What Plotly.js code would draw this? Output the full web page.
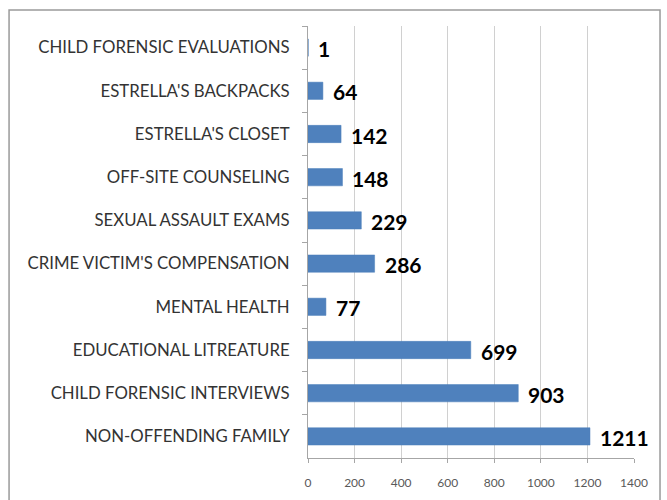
<!DOCTYPE html>
<html><head><meta charset="utf-8">
<script src="https://cdn.plot.ly/plotly-3.0.1.min.js"></script>
<style>html,body{margin:0;padding:0;background:#fff;}</style>
</head><body><div id="chart" style="width:667px;height:500px;"></div>
<script>
const categories = ["CHILD FORENSIC EVALUATIONS","ESTRELLA'S BACKPACKS","ESTRELLA'S CLOSET","OFF-SITE COUNSELING","SEXUAL ASSAULT EXAMS","CRIME VICTIM'S COMPENSATION","MENTAL HEALTH","EDUCATIONAL LITREATURE","CHILD FORENSIC INTERVIEWS","NON-OFFENDING FAMILY"];
const values = [1,64,142,148,229,286,77,699,903,1211];
const xTicks = [0,200,400,600,800,1000,1200,1400];

const trace = {
  type:'bar', orientation:'h', x:values, y:categories,
  marker:{color:'#4F81BD', line:{color:'#4A7EBB', width:0.5}},
  width:0.4,
  hoverinfo:'none'
};
const annotations = values.map((v,i)=>({
  x:v, y:categories[i], xref:'x', yref:'y', text:String(v), showarrow:false,
  xanchor:'left', yanchor:'middle', xshift:8, yshift:-1,
  font:{family:'Lato, sans-serif', size:21, color:'#000', weight:'bold'}
}));
const layout = {
  width:667, height:500,
  margin:{l:308, r:33, t:26, b:42},
  paper_bgcolor:'#fff', plot_bgcolor:'#fff',
  showlegend:false,
  xaxis:{range:[0,1400], tickvals:xTicks, showgrid:true, gridcolor:'#d0d0d0', gridwidth:1,
    zeroline:false, showline:true, linecolor:'#a6a6a6', ticks:'outside', ticklen:4, tickcolor:'#a6a6a6',
    ticklabelstandoff:10,
    tickfont:{family:'Lato, sans-serif', size:12, color:'#595959'}, fixedrange:true},
  yaxis:{type:'category', autorange:'reversed', showgrid:false, zeroline:false, showline:true,
    linecolor:'#a6a6a6', ticks:'outside', ticklen:5, tickcolor:'#a6a6a6', tickson:'boundaries',
    ticklabelstandoff:14,
    tickfont:{family:'Lato, sans-serif', size:16.8, color:'#333333'}},
  annotations:annotations,
  shapes:[{type:'rect', xref:'paper', yref:'paper', x0:-0.917, x1:1.0798, y0:-0.12, y1:1.037,
    line:{color:'#9a9a9a', width:1.5}, fillcolor:'rgba(0,0,0,0)', layer:'below'}]
};
Plotly.newPlot('chart',[trace],layout,{displayModeBar:false, staticPlot:true});
</script></body></html>
